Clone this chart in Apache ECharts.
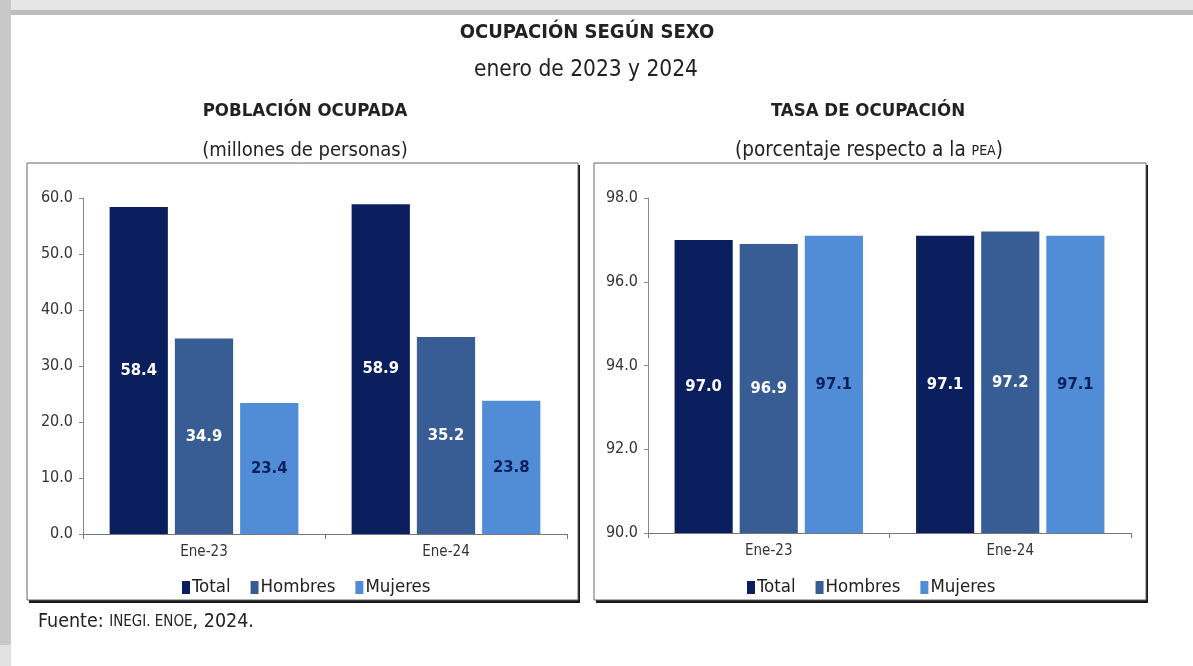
<!DOCTYPE html>
<html>
<head>
<meta charset="utf-8">
<script src="https://cdn.jsdelivr.net/npm/echarts@6/dist/echarts.min.js"></script>
<style>
html,body{margin:0;padding:0;background:#fff;}
#c{width:1193px;height:666px;}
</style>
</head>
<body>
<div id="c"></div>
<script>
var categories = ['Ene-23', 'Ene-24'];
var seriesNames = ['Total', 'Hombres', 'Mujeres'];
var poblacionTotal = [58.4, 58.9];
var poblacionHombres = [34.9, 35.2];
var poblacionMujeres = [23.4, 23.8];
var tasaTotal = [97.0, 97.1];
var tasaHombres = [96.9, 97.2];
var tasaMujeres = [97.1, 97.1];
var leftAxis = {min: 0, max: 60, interval: 10};
var rightAxis = {min: 90, max: 98, interval: 2};

var FONT = '"Liberation Sans Narrow", "DejaVu Sans Condensed", "Roboto Condensed", Arial, sans-serif';
var colors = ['#0b1f5f', '#385d95', '#518cd6'];
var labelColors = ['#ffffff', '#ffffff', '#0b1f5f'];

var chart = echarts.init(document.getElementById('c'), null, {renderer: 'canvas'});

function mkSeries(name, idx, data, axisIdx) {
  return {
    name: name,
    type: 'bar',
    xAxisIndex: axisIdx,
    yAxisIndex: axisIdx,
    data: data,
    barGap: '12%',
    barCategoryGap: '22%',
    itemStyle: {color: colors[idx]},
    label: {
      show: true,
      position: 'inside',
      color: labelColors[idx],
      fontFamily: FONT,
      fontWeight: 'bold',
      fontSize: 16.5,
      formatter: function (p) { return p.value.toFixed(1); }
    },
    emphasis: {disabled: true}
  };
}

function xAx(gi) {
  return {
    type: 'category', gridIndex: gi, data: categories,
    axisLine: {lineStyle: {color: '#777', width: 1}},
    axisTick: {show: true, length: 5, lineStyle: {color: '#777'}},
    axisLabel: {color: '#333', fontFamily: FONT, fontSize: 15, margin: 11}
  };
}
function yAx(gi, ax) {
  return {
    type: 'value', gridIndex: gi, min: ax.min, max: ax.max, interval: ax.interval,
    axisLine: {show: true, lineStyle: {color: '#888', width: 1}},
    axisTick: {show: true, length: 4, lineStyle: {color: '#888'}},
    splitLine: {show: false},
    axisLabel: {color: '#333', fontFamily: FONT, fontSize: 16, margin: 10,
      formatter: function (v) { return v.toFixed(1); }}
  };
}

var legendBase = {
  data: seriesNames,
  orient: 'horizontal',
  itemWidth: 8, itemHeight: 13, itemGap: 20,
  icon: 'rect',
  textStyle: {color: '#222', fontFamily: FONT, fontSize: 18.5, padding: [0, 0, 0, -3]},
  selectedMode: false
};

var option = {
  animation: false,
  backgroundColor: '#ffffff',
  graphic: [
    {type: 'rect', z: -10, shape: {x: 0, y: 0, width: 1193, height: 10}, style: {fill: '#e6e6e6'}},
    {type: 'rect', z: -10, shape: {x: 0, y: 10, width: 1193, height: 5}, style: {fill: '#bdbdbd'}},
    {type: 'rect', z: -10, shape: {x: 0, y: 0, width: 11, height: 645}, style: {fill: '#c8c8c8'}},
    {type: 'rect', z: -10, shape: {x: 0, y: 645, width: 11, height: 21}, style: {fill: '#e2e2e2'}},
    {type: 'rect', z: -9, shape: {x: 29, y: 165, width: 551, height: 438}, style: {fill: '#1a1a1a'}},
    {type: 'rect', z: -8, shape: {x: 27, y: 163, width: 551, height: 437}, style: {fill: '#fff', stroke: '#666', lineWidth: 1}},
    {type: 'rect', z: -9, shape: {x: 596, y: 165, width: 552, height: 438}, style: {fill: '#1a1a1a'}},
    {type: 'rect', z: -8, shape: {x: 594, y: 163, width: 552, height: 437}, style: {fill: '#fff', stroke: '#666', lineWidth: 1}},
    {type: 'text', z: 5, x: 587, y: 33, style: {text: 'OCUPACIÓN SEGÚN SEXO', fill: '#222', font: 'bold 20px ' + FONT, textAlign: 'center', textVerticalAlign: 'middle'}},
    {type: 'text', z: 5, x: 586, y: 70, style: {text: 'enero de 2023 y 2024', fill: '#222', font: '22.5px ' + FONT, textAlign: 'center', textVerticalAlign: 'middle'}},
    {type: 'text', z: 5, x: 305, y: 111, style: {text: 'POBLACIÓN OCUPADA', fill: '#222', font: 'bold 18.5px ' + FONT, textAlign: 'center', textVerticalAlign: 'middle'}},
    {type: 'text', z: 5, x: 305, y: 151, style: {text: '(millones de personas)', fill: '#222', font: '20px ' + FONT, textAlign: 'center', textVerticalAlign: 'middle'}},
    {type: 'text', z: 5, x: 868, y: 111, style: {text: 'TASA DE OCUPACIÓN', fill: '#222', font: 'bold 18.5px ' + FONT, textAlign: 'center', textVerticalAlign: 'middle'}},
    {type: 'text', z: 5, x: 869, y: 151, style: {
      text: '{a|(porcentaje respecto a la }{b|PEA}{a|)}', textAlign: 'center', textVerticalAlign: 'middle',
      rich: {a: {fill: '#222', fontFamily: FONT, fontSize: 20.5}, b: {fill: '#222', fontFamily: FONT, fontSize: 14}}
    }},
    {type: 'text', z: 5, x: 38, y: 622, style: {
      text: '{a|Fuente: }{b|INEGI. ENOE}{a|, 2024.}', textAlign: 'left', textVerticalAlign: 'middle',
      rich: {a: {fill: '#222', fontFamily: FONT, fontSize: 19.5}, b: {fill: '#222', fontFamily: FONT, fontSize: 15}}
    }}
  ],
  legend: [
    Object.assign({}, legendBase, {top: 573, left: 177}),
    Object.assign({}, legendBase, {top: 573, left: 742})
  ],
  grid: [
    {left: 83, top: 198, width: 484, height: 336},
    {left: 648, top: 198, width: 483, height: 335}
  ],
  xAxis: [xAx(0), xAx(1)],
  yAxis: [yAx(0, leftAxis), yAx(1, rightAxis)],
  series: [
    mkSeries(seriesNames[0], 0, poblacionTotal, 0),
    mkSeries(seriesNames[1], 1, poblacionHombres, 0),
    mkSeries(seriesNames[2], 2, poblacionMujeres, 0),
    mkSeries(seriesNames[0], 0, tasaTotal, 1),
    mkSeries(seriesNames[1], 1, tasaHombres, 1),
    mkSeries(seriesNames[2], 2, tasaMujeres, 1)
  ]
};
chart.setOption(option);
</script>
</body>
</html>
